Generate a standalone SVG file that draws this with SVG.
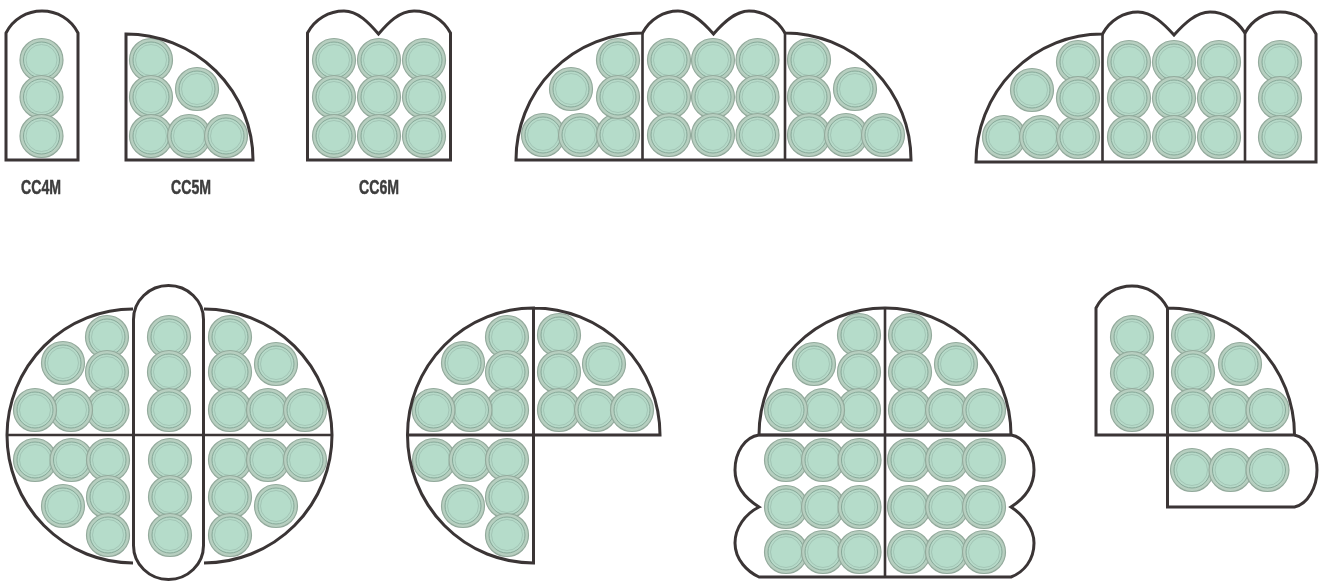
<svg xmlns="http://www.w3.org/2000/svg" xmlns:xlink="http://www.w3.org/1999/xlink" width="1322" height="581" viewBox="0 0 1322 581">
<style>
.o{fill:none;stroke:#3a3536;stroke-width:3;stroke-linejoin:miter}
.d{fill:none;stroke:#3a3536;stroke-width:2.6}
.t{font-family:"Liberation Sans",Arial,sans-serif;font-weight:700;font-size:20px;fill:#3d3d3d;stroke:#3d3d3d;stroke-width:.5;text-anchor:start}
</style>
<defs>
<filter id="soft" filterUnits="userSpaceOnUse" x="0" y="0" width="1322" height="581"><feGaussianBlur stdDeviation="0.6"/></filter>
<g id="c">
<circle r="21.500" fill="#b7cfc0" stroke="#93aa9c" stroke-width="1.200"/>
<circle r="18" fill="#b6d9c8" stroke="#86a898" stroke-width="1"/>
<circle r="15.500" fill="#b5dcca" stroke="#9dbfb0" stroke-width=".8"/>
</g>
</defs>
<rect width="1322" height="581" fill="#fff"/>
<g filter="url(#soft)">
<g id="cc4m">
<use href="#c" x="41.5" y="60"/><use href="#c" x="41.5" y="97"/><use href="#c" x="41.5" y="136"/>
<path class="o" d="M6 160V33C13 19 27 11 42 11C57 11 71 19 78 33V160Z"/>
<text class="t" x="21" y="194" textLength="40" lengthAdjust="spacingAndGlyphs">CC4M</text>
</g>
<g id="cc5m">
<use href="#c" x="151" y="60"/><use href="#c" x="151" y="97"/><use href="#c" x="151" y="136"/><use href="#c" x="197" y="89"/><use href="#c" x="189" y="136"/><use href="#c" x="226" y="136"/>
<path class="o" d="M126 160V34A127 126 0 0 1 253 160Z"/>
<text class="t" x="171" y="194" textLength="40" lengthAdjust="spacingAndGlyphs">CC5M</text>
</g>
<g id="cc6m">
<use href="#c" x="334" y="60"/><use href="#c" x="379" y="60"/><use href="#c" x="424" y="60"/>
<use href="#c" x="334" y="97"/><use href="#c" x="379" y="97"/><use href="#c" x="424" y="97"/>
<use href="#c" x="334" y="136"/><use href="#c" x="379" y="136"/><use href="#c" x="424" y="136"/>
<path class="o" d="M307.500 160V33C315 19 329 11 344 11C358 11 369 23 378.500 34C388 23 399 11 414 11C429 11 443 19 450.500 33V160Z"/>
<text class="t" x="359" y="194" textLength="40" lengthAdjust="spacingAndGlyphs">CC6M</text>
</g>
<g id="top-three">
<use href="#c" x="543" y="135"/><use href="#c" x="580" y="135"/><use href="#c" x="618" y="135"/><use href="#c" x="618" y="60"/><use href="#c" x="618" y="97"/><use href="#c" x="571" y="89"/>
<use href="#c" x="669" y="60"/><use href="#c" x="713" y="60"/><use href="#c" x="757.500" y="60"/>
<use href="#c" x="669" y="97"/><use href="#c" x="713" y="97"/><use href="#c" x="757.500" y="97"/>
<use href="#c" x="669" y="135"/><use href="#c" x="713" y="135"/><use href="#c" x="757.500" y="135"/>
<use href="#c" x="809" y="60"/><use href="#c" x="809" y="97"/><use href="#c" x="809" y="135"/><use href="#c" x="855" y="89"/><use href="#c" x="846" y="135"/><use href="#c" x="883" y="135"/>
<path class="o" d="M516 160H911A126 127 0 0 0 785 33C777 19 763 11 749 11C735 11 723 23 713.500 34C704 23 692 11 678 11C664 11 650 19 642.500 33A126 127 0 0 0 516 160Z"/>
<path class="d" d="M642.500 33V160M785 33V160"/>
</g>
<g id="top-four">
<use href="#c" x="1004" y="137"/><use href="#c" x="1041" y="137"/><use href="#c" x="1078" y="137"/><use href="#c" x="1078" y="62"/><use href="#c" x="1078" y="98"/><use href="#c" x="1032" y="90"/>
<use href="#c" x="1129" y="62"/><use href="#c" x="1174" y="62"/><use href="#c" x="1219" y="62"/>
<use href="#c" x="1129" y="98"/><use href="#c" x="1174" y="98"/><use href="#c" x="1219" y="98"/>
<use href="#c" x="1129" y="137"/><use href="#c" x="1174" y="137"/><use href="#c" x="1219" y="137"/>
<use href="#c" x="1280" y="62"/><use href="#c" x="1280" y="98"/><use href="#c" x="1280" y="137"/>
<path class="o" d="M976 162H1316V34C1309 20 1295 12 1280 12C1265 12 1252 20 1245 33C1237 20 1224 12 1210 12C1196 12 1184 24 1174 35C1164 24 1152 12 1138 12C1124 12 1110 20 1102.500 34A126 128 0 0 0 976 162Z"/>
<path class="d" d="M1102.500 34V162M1245 33V162"/>
</g>
<g id="bottom-full">
<use href="#c" x="107" y="337"/><use href="#c" x="107" y="372"/><use href="#c" x="107.500" y="410"/><use href="#c" x="63" y="363"/><use href="#c" x="71" y="410"/><use href="#c" x="35" y="410"/>
<use href="#c" x="169" y="337"/><use href="#c" x="169" y="372"/><use href="#c" x="169" y="410"/><use href="#c" x="170" y="460"/><use href="#c" x="170" y="497"/><use href="#c" x="170" y="535"/>
<use href="#c" x="230" y="337"/><use href="#c" x="230" y="372"/><use href="#c" x="230" y="410"/><use href="#c" x="276" y="364"/><use href="#c" x="268" y="410"/><use href="#c" x="305" y="410"/>
<use href="#c" x="35" y="460"/><use href="#c" x="71.500" y="460"/><use href="#c" x="108" y="460"/><use href="#c" x="108" y="497"/><use href="#c" x="108" y="535"/><use href="#c" x="63" y="506"/>
<use href="#c" x="230" y="460"/><use href="#c" x="268" y="460"/><use href="#c" x="305" y="460"/><use href="#c" x="230" y="497"/><use href="#c" x="230" y="535"/><use href="#c" x="276" y="506"/>
<path class="o" d="M133 309A126 127 0 0 0 7 435A126 128 0 0 0 133 563M204 309A128 127 0 0 1 332 435A128 128 0 0 1 204 563"/>
<rect class="o" x="133.500" y="285.500" width="70" height="294" rx="35" ry="34"/>
<path class="d" d="M7 435H332"/>
</g>
<g id="bottom-three-quarter">
<use href="#c" x="507" y="337"/><use href="#c" x="507" y="372"/><use href="#c" x="507" y="410"/><use href="#c" x="463" y="363"/><use href="#c" x="470.500" y="410"/><use href="#c" x="433.500" y="410"/>
<use href="#c" x="559" y="335"/><use href="#c" x="559" y="372"/><use href="#c" x="559" y="410"/><use href="#c" x="604" y="364"/><use href="#c" x="596" y="410"/><use href="#c" x="632" y="410"/>
<use href="#c" x="434" y="460"/><use href="#c" x="470.500" y="460"/><use href="#c" x="507" y="460"/><use href="#c" x="507" y="497"/><use href="#c" x="507" y="535"/><use href="#c" x="463" y="506"/>
<path class="o" d="M533.500 563V308A126 127 0 0 0 407.500 435A126 128 0 0 0 533.500 563ZM533.500 308A126.500 127 0 0 1 660 435H407.500"/>
</g>
<g id="bottom-dome">
<use href="#c" x="859" y="335"/><use href="#c" x="859" y="372"/><use href="#c" x="859" y="410"/><use href="#c" x="814" y="364"/><use href="#c" x="823" y="410"/><use href="#c" x="786" y="410"/>
<use href="#c" x="910" y="335"/><use href="#c" x="910" y="372"/><use href="#c" x="910" y="410"/><use href="#c" x="956" y="364"/><use href="#c" x="947" y="410"/><use href="#c" x="984" y="410"/>
<use href="#c" x="786" y="460"/><use href="#c" x="823" y="460"/><use href="#c" x="859.500" y="460"/><use href="#c" x="909" y="460"/><use href="#c" x="947" y="460"/><use href="#c" x="984" y="460"/>
<use href="#c" x="786" y="507"/><use href="#c" x="823" y="507"/><use href="#c" x="859.500" y="507"/><use href="#c" x="909" y="507"/><use href="#c" x="947" y="507"/><use href="#c" x="984" y="507"/>
<use href="#c" x="786" y="552"/><use href="#c" x="823" y="552"/><use href="#c" x="859.500" y="552"/><use href="#c" x="909" y="552"/><use href="#c" x="947" y="552"/><use href="#c" x="984" y="552"/>
<path class="o" d="M759 435A126 127 0 0 1 885 308A126 127 0 0 1 1011 435"/>
<path class="o" d="M759 435C745 437 735 452 735 470C735 488 748 500 759 507C745 514 735 528 735 543C735 560 748 572 759 577H1011C1024 572 1034 560 1034 543C1034 528 1022 514 1011 507C1022 500 1034 488 1034 470C1034 452 1024 437 1011 435Z"/>
<path class="d" d="M759 435H1011M885 308V577"/>
</g>
<g id="bottom-mixed">
<use href="#c" x="1132" y="337"/><use href="#c" x="1132" y="373"/><use href="#c" x="1132" y="410"/>
<use href="#c" x="1193" y="335"/><use href="#c" x="1193" y="372"/><use href="#c" x="1193" y="410"/><use href="#c" x="1240" y="364"/><use href="#c" x="1230.500" y="410"/><use href="#c" x="1267.500" y="410"/>
<use href="#c" x="1192" y="470"/><use href="#c" x="1230.500" y="470"/><use href="#c" x="1267.500" y="470"/>
<path class="o" d="M1167.500 435V308C1160 294 1147 286 1132 286C1117 286 1103 294 1096 308V435H1294.500A127 127 0 0 0 1167.500 308"/>
<path class="o" d="M1167.500 435V507H1294.500C1308 504 1317 487 1317 470C1317 453 1308 438 1294.500 435"/>
</g>
</g>
</svg>
